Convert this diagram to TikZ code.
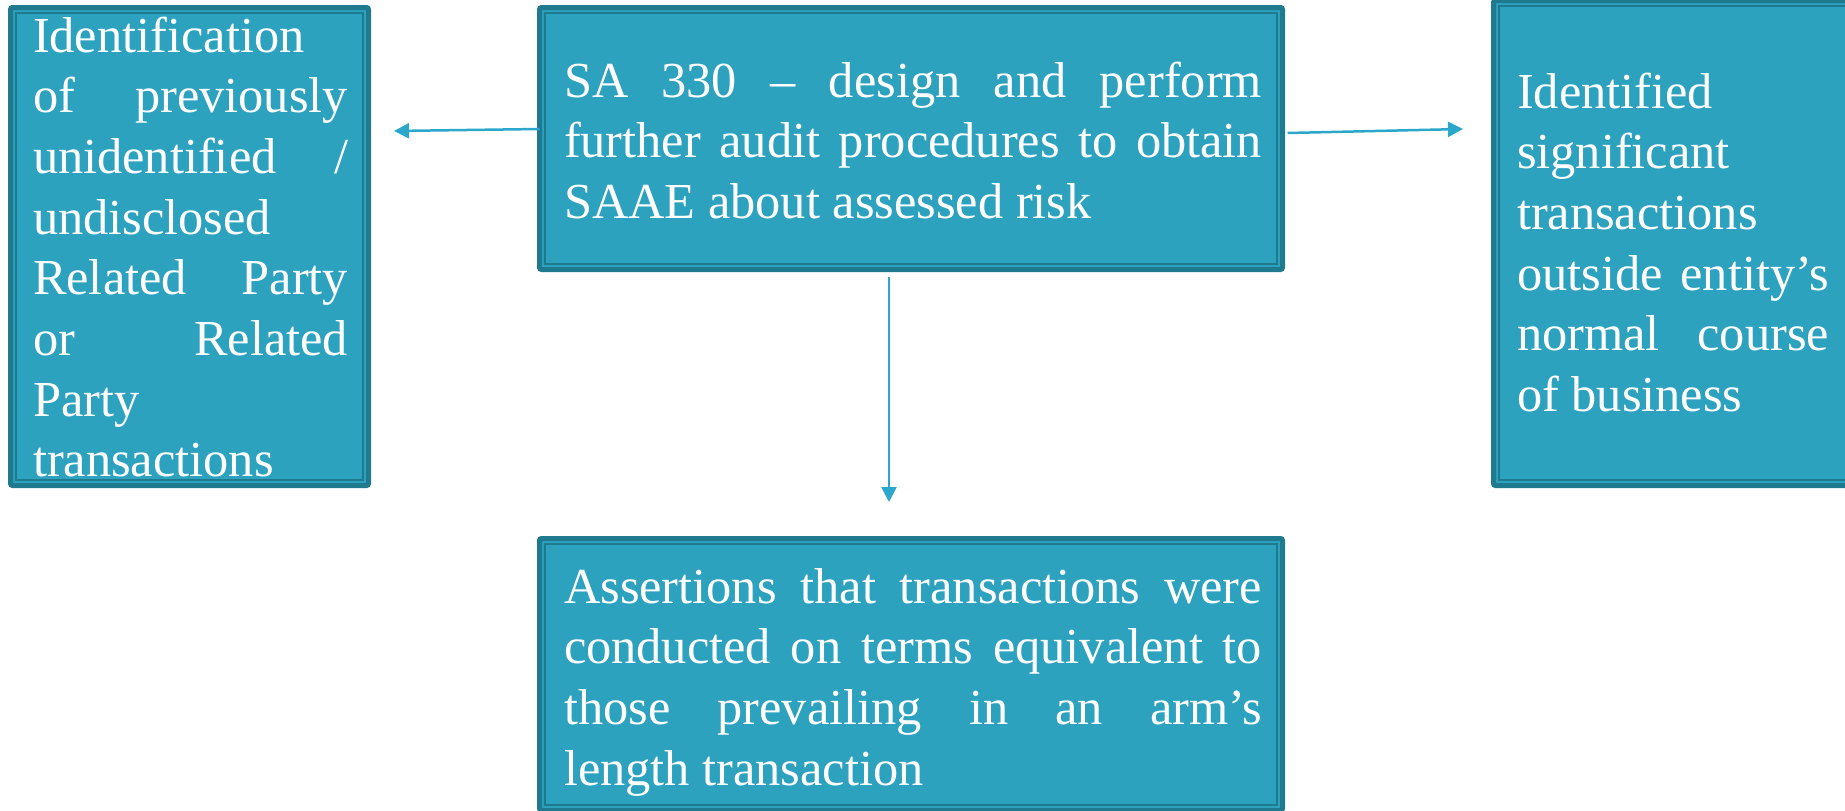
\documentclass[tikz,border=0pt]{standalone}
\usepackage{fontspec}
\setmainfont{Liberation Serif}
\usetikzlibrary{arrows.meta}
\tolerance=10000
\hbadness=10000
\hyphenpenalty=10000
\definecolor{boxfill}{HTML}{2DA2BF}
\definecolor{boxdark}{HTML}{207A8F}
\definecolor{arrowc}{HTML}{2AA7CA}
\tikzset{
  box/.style={draw=boxdark, fill=boxfill, line width=5pt, rounded corners=2pt, inner sep=0pt, outer sep=0pt},
  innerline/.style={draw=boxdark, line width=1.5pt},
  txt/.style={anchor=north west, inner sep=0pt, outer sep=0pt, text=white, align=justify, font=\fontsize{50.4pt}{60.7pt}\selectfont},
  arr/.style={draw=arrowc, line width=2.5pt, -{Triangle[length=15pt,width=15pt]}},
}
\newcommand{\firstline}{\noindent\rule{0pt}{40pt}}
\begin{document}
\begin{tikzpicture}[x=1pt,y=-1pt]
\useasboundingbox (0,0) rectangle (1845,811);
\clip (0,0) rectangle (1845,811);
% boxes
\node[box, minimum width=358pt, minimum height=478pt] (L) at (189.5,246.5) {};
\node[box, minimum width=743pt, minimum height=262pt] (C) at (911,138.5) {};
\node[box, minimum width=376.5pt, minimum height=485pt] (R) at (1681.75,243) {};
\node[box, minimum width=743pt, minimum height=272pt] (B) at (911,674.5) {};
% inner frame lines
\foreach \n in {L,C,R,B}{
  \draw[innerline] ([shift={(5.5,5.5)}]\n.north west) rectangle ([shift={(-5.5,-5.5)}]\n.south east);
}
% texts
\node[txt, text width=315pt] (Lt) at (33,12) {\firstline Identification\linebreak of previously\linebreak unidentified /\linebreak undisclosed\linebreak Related Party\linebreak or Related\linebreak Party\linebreak transactions};
\node[txt, text width=698pt] (Ct) at (564,57) {\firstline SA 330 – design and perform\linebreak further audit procedures to obtain\linebreak SAAE about assessed risk};
\node[txt, text width=312pt] (Rt) at (1517,68) {\firstline Identified\linebreak significant\linebreak transactions\linebreak outside entity’s\linebreak normal course\linebreak of business};
\node[txt, text width=698pt] (Bt) at (564,563) {\firstline Assertions that transactions were\linebreak conducted on terms equivalent to\linebreak those prevailing in an arm’s\linebreak length transaction};
% connectors
\coordinate (Ltip) at ([xshift=25.5pt,yshift=115.5pt]L.east);
\coordinate (Rtip) at ([xshift=-30.5pt,yshift=114pt]R.west);
\coordinate (Btip) at ([xshift=-22pt,yshift=36.5pt]B.north);
\draw[arr] ([yshift=9.5pt]C.west) -- (Ltip);
\draw[arr] ([xshift=5pt,yshift=5.5pt]C.east) -- (Rtip);
\draw[arr] ([xshift=-22pt,yshift=-7.5pt]C.south) -- (Btip);
\end{tikzpicture}
\end{document}
